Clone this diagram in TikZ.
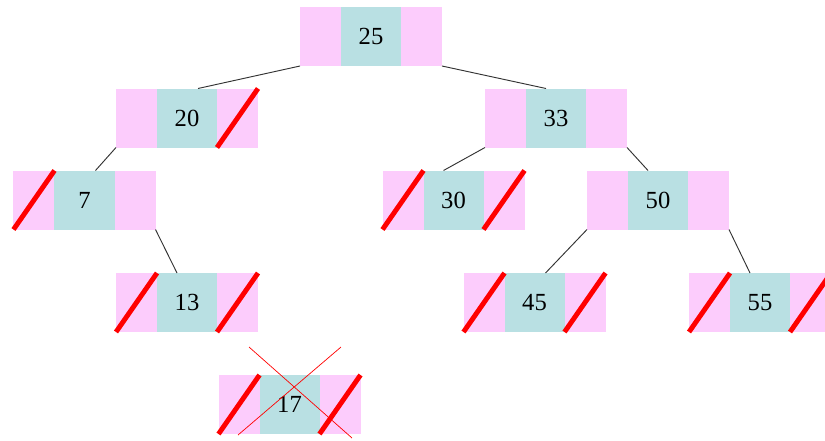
\documentclass[tikz,border=0pt]{standalone}
\usepackage{fontspec}
\setmainfont{Liberation Serif}
\usetikzlibrary{positioning,calc}
\definecolor{keycyan}{HTML}{B9E0E3}
\definecolor{ptrpink}{HTML}{FCCCFC}

\begin{document}
\begin{tikzpicture}[
    x=0.03cm, y=-0.03cm,
    every node/.style={font=\fontsize{21}{24}\selectfont},
    keybox/.style={fill=keycyan, minimum width=1.8cm, minimum height=1.77cm, inner sep=0pt, outer sep=0pt},
    ptrbox/.style={fill=ptrpink, minimum width=1.23cm, minimum height=1.77cm, inner sep=0pt, outer sep=0pt},
    link/.style={black!80, line width=0.8pt},
    nullptr/.style={red, line width=4.2pt},
    erased/.style={red, line width=0.6pt}
]
\useasboundingbox (0,0) rectangle (825,440);
\clip (0,0) rectangle (825,440);

% ---- nodes: key cell with a pointer cell on each side ----
\node[keybox] (n25) at (371,36.5) {25};
\node[keybox] (n20) at (187,118) {20};
\node[keybox] (n33) at (556,118) {33};
\node[keybox] (n7) at (84.5,200) {7};
\node[keybox] (n30) at (453.5,200) {30};
\node[keybox] (n50) at (658,200) {50};
\node[keybox] (n13) at (187,302.5) {13};
\node[keybox] (n45) at (534.5,302.5) {45};
\node[keybox] (n55) at (760,302.5) {55};
\node[keybox] (n17) at (289.5,404.5) {17};

\foreach \k in {25,20,33,7,30,50,13,45,55,17} {
  \node[ptrbox, left=0pt of n\k] (n\k l) {};
  \node[ptrbox, right=0pt of n\k] (n\k r) {};
}

% ---- empty pointers ----
\foreach \p in {n20r, n7l, n30l, n30r, n13l, n13r, n45l, n45r, n55l, n55r, n17l, n17r}
  \draw[nullptr] (\p.south west) -- (\p.north east);

% ---- links ----
\draw[link] (n25l.south west) -- ([xshift=1.23cm]n20.north west);
\draw[link] (n25r.south east) -- ([xshift=0.6cm]n33.north west);
\draw[link] (n20l.south west) -- ([xshift=1.23cm]n7.north west);
\draw[link] (n7r.south east) -- ([xshift=0.6cm]n13.north west);
\draw[link] (n33l.south west) -- ([xshift=0.6cm]n30.north west);
\draw[link] (n33r.south east) -- ([xshift=0.6cm]n50.north west);
\draw[link] (n50l.south west) -- ([xshift=1.23cm]n45.north west);
\draw[link] (n50r.south east) -- ([xshift=0.6cm]n55.north west);

% ---- 17 crossed out ----
\draw[erased] (249,347) -- (352,438);
\draw[erased] (341,347) -- (238,435);
\end{tikzpicture}
\end{document}
